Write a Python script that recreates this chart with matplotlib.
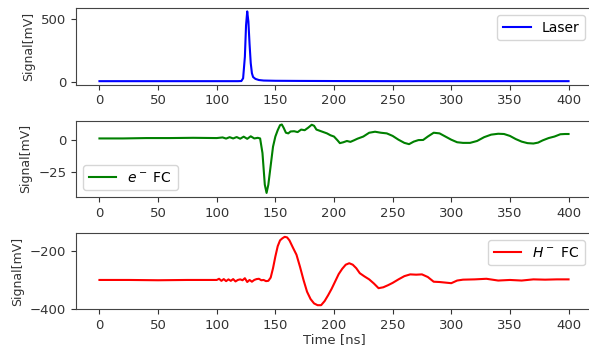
import matplotlib
matplotlib.use("Agg")
import matplotlib.pyplot as plt

# ---- Laser ----
laser_t = [0, 50, 100, 118, 121, 122.5, 124, 125, 126, 127, 128, 129, 130, 131,
           133, 136, 140, 150, 170, 200, 250, 300, 350, 400]
laser_mv = [7, 7, 7, 7, 8, 30, 200, 450, 560, 480, 300, 150, 70, 40,
            25, 16, 12, 10, 9, 8, 7, 7, 7, 7]

# ---- e- FC ----
efc_t = [0, 20, 40, 60, 80, 100, 105, 108, 111, 114,
         117, 120, 123, 126, 129, 132, 135, 137, 139, 141,
         142.5, 144, 146, 148, 150, 152, 154, 155.5, 157, 159,
         161, 163, 166, 169, 172, 175, 178, 181, 183, 185,
         188, 191, 194, 197, 200, 203, 205, 208, 211, 214,
         217, 220, 225, 230, 235, 240, 245, 250, 255, 260,
         264, 268, 272, 276, 280, 285, 290, 295, 300, 305,
         310, 316, 322, 328, 334, 340, 345, 350, 355, 360,
         365, 370, 374, 378, 383, 388, 393, 397, 400]
efc_mv = [1.5, 1.5, 1.8, 1.8, 2.0, 1.8, 2.3, 1.4, 2.5, 1.5,
          2.6, 1.3, 2.9, 1.2, 3.2, 1.5, 2.0, 1.5, -10, -35,
          -41.5, -35, -20, -5, 3, 8, 12, 12.5, 10, 6,
          5.5, 7, 7.2, 6.5, 8.5, 8.0, 10, 12.3, 11.5, 8.5,
          7.5, 6.5, 5.5, 4, 3, 0, -2.2, -1.5, -0.5, -1.2,
          0, 1.3, 3, 6, 6.8, 6, 5.5, 3.5, 0.5, -2.0,
          -3.0, -1.0, 0.2, 0.3, 3, 6, 5.5, 3, 0.5, -1.5,
          -2.0, -2.0, -0.5, 2.5, 4.5, 5.2, 5, 3.5, 1.0, -1.0,
          -2.2, -2.5, -1.8, 0, 1.8, 3, 4.8, 5, 5]

# ---- H- FC ----
hfc_t = [0, 25, 50, 75, 90, 100, 102, 104, 106, 108,
         110, 112, 114, 116, 118, 120, 122, 124, 126, 128,
         130, 132, 134, 136, 138, 140, 142, 144, 146, 148,
         150, 152, 154, 156, 158, 160, 162, 165, 168, 171,
         174, 177, 180, 183, 186, 189, 192, 195, 198, 201,
         204, 207, 210, 213, 216, 219, 222, 226, 230, 234,
         238, 242, 246, 250, 255, 260, 265, 270, 275, 280,
         285, 290, 295, 300, 305, 310, 320, 330, 340, 350,
         360, 370, 380, 390, 400]
hfc_mv = [-300, -300, -301, -300, -300, -300, -296, -303, -297, -304,
          -298, -303, -297, -305, -300, -298, -301, -294, -307, -300,
          -306, -300, -297, -296, -301, -300, -304, -303, -292, -260,
          -220, -185, -165, -158, -153, -155, -165, -190, -214, -255,
          -300, -340, -365, -380, -386, -386, -372, -352, -330, -305,
          -280, -262, -248, -243, -248, -260, -277, -288, -298, -312,
          -328, -325, -318, -310, -298, -287, -281, -282, -281, -290,
          -306, -307, -309, -311, -302, -299, -298, -296, -302, -300,
          -302, -298, -299, -298, -298]

assert len(efc_t) == len(efc_mv) and len(hfc_t) == len(hfc_mv) and len(laser_t) == len(laser_mv)

W, H = 589, 349
fig = plt.figure(figsize=(W / 100, H / 100), dpi=100)

left = 76 / W
right = 592 / W
def box(top_px, bot_px):
    return [left, 1 - bot_px / H, right - left, (bot_px - top_px) / H]

ax1 = fig.add_axes(box(8, 84.7))
ax2 = fig.add_axes(box(120.7, 197))
ax3 = fig.add_axes(box(233.3, 309.3))

ax1.plot(laser_t, laser_mv, color='blue', lw=1.5, label='Laser')
ax2.plot(efc_t, efc_mv, color='green', lw=1.5, label='$e^-$ FC')
ax3.plot(hfc_t, hfc_mv, color='red', lw=1.5, label='$H^-$ FC')

ax1.set_ylim(-21, 587)
ax1.set_yticks([0, 500])
ax2.set_ylim(-44.7, 15.5)
ax2.set_yticks([-25, 0])
ax3.set_ylim(-400, -141)
ax3.set_yticks([-400, -200])

for ax in (ax1, ax2, ax3):
    ax.set_xlim(-20, 420)
    ax.set_xticks([0, 50, 100, 150, 200, 250, 300, 350, 400])
    ax.tick_params(labelsize=9.5, colors='#333333')
    for s in ax.spines.values():
        s.set_color('#444444')
    ax.set_ylabel('Signal[mV]', fontsize=9, color='#333333')

ax1.legend(loc='upper right', fontsize=10)
ax2.legend(loc='lower left', fontsize=10)
ax3.legend(loc='upper right', fontsize=10)
ax3.set_xlabel('Time [ns]', fontsize=9.5, color='#333333', labelpad=1)

fig.align_ylabels([ax1, ax2, ax3])
fig.savefig('out.png', dpi=100)
